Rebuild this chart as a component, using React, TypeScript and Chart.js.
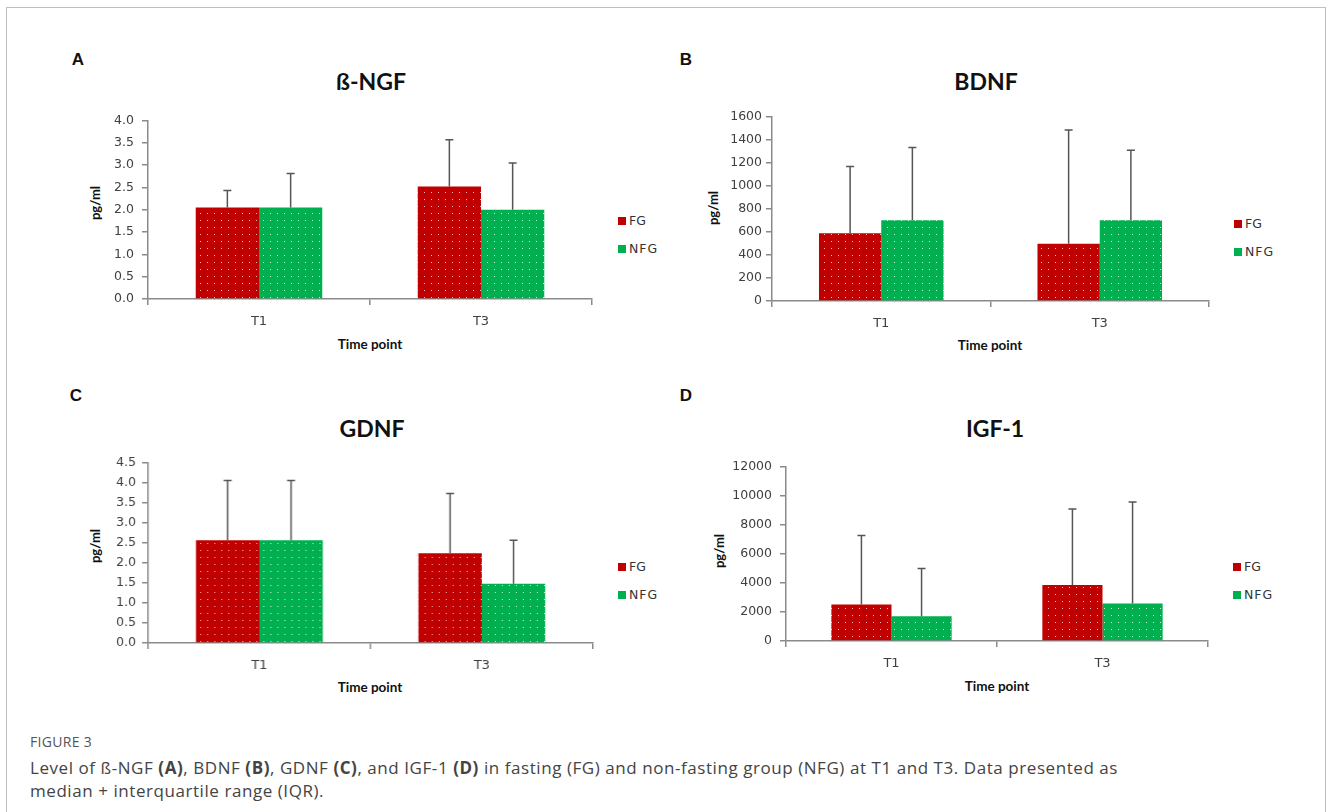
import React, { useEffect, useRef } from "react";
import { Chart, registerables } from "chart.js";

Chart.register(...registerables);

// ---------- data ----------
const categories = ["T1", "T3"];
const seriesNames = ["FG", "NFG"];

// ß-NGF (pg/ml): median and upper end (median + IQR)
const ngfFG = [2.05, 2.52];
const ngfNFG = [2.05, 2.0];
const ngfFGUpper = [2.43, 3.57];
const ngfNFGUpper = [2.81, 3.05];
const ngfTicks = ["0.0", "0.5", "1.0", "1.5", "2.0", "2.5", "3.0", "3.5", "4.0"];

// BDNF
const bdnfFG = [589, 497];
const bdnfNFG = [702, 702];
const bdnfFGUpper = [1170, 1487];
const bdnfNFGUpper = [1334, 1311];
const bdnfTicks = ["0", "200", "400", "600", "800", "1000", "1200", "1400", "1600"];

// GDNF
const gdnfFG = [2.56, 2.24];
const gdnfNFG = [2.56, 1.48];
const gdnfFGUpper = [4.05, 3.73];
const gdnfNFGUpper = [4.05, 2.56];
const gdnfTicks = ["0.0", "0.5", "1.0", "1.5", "2.0", "2.5", "3.0", "3.5", "4.0", "4.5"];

// IGF-1
const igfFG = [2510, 3856];
const igfNFG = [1703, 2577];
const igfFGUpper = [7248, 9085];
const igfNFGUpper = [4980, 9556];
const igfTicks = ["0", "2000", "4000", "6000", "8000", "10000", "12000"];

// ---------- styling ----------
const RED = "#c00000";
const GREEN = "#00b050";
const AXIS = "#8a8a8a";
const TICK_TXT = "#404040";
const YW = 70; // y-axis width inside canvas
const XH = 40; // x-axis height inside canvas
const PT = 12;
const PR = 12;

function makePattern(base: string, dot: string) {
  const c = document.createElement("canvas");
  c.width = 7;
  c.height = 7;
  const g = c.getContext("2d")!;
  g.fillStyle = base;
  g.fillRect(0, 0, 7, 7);
  g.fillStyle = dot;
  g.fillRect(3, 3, 1, 1);
  return g.createPattern(c, "repeat")!;
}

const errorBarPlugin = {
  id: "errorBars",
  afterDatasetsDraw(chart: any) {
    const ctx = chart.ctx;
    const ys = chart.scales.y;
    chart.data.datasets.forEach((ds: any, di: number) => {
      const meta = chart.getDatasetMeta(di);
      meta.data.forEach((bar: any, i: number) => {
        const top = ys.getPixelForValue(ds.upper[i]);
        ctx.save();
        ctx.strokeStyle = "#555555";
        ctx.lineWidth = 1.5;
        ctx.beginPath();
        ctx.moveTo(bar.x, bar.y);
        ctx.lineTo(bar.x, top);
        ctx.moveTo(bar.x - 4, top);
        ctx.lineTo(bar.x + 4, top);
        ctx.stroke();
        ctx.restore();
      });
    });
  },
};

type PanelProps = {
  x0: number;
  x1: number;
  yTop: number;
  yBottom: number;
  fg: number[];
  nfg: number[];
  fgUpper: number[];
  nfgUpper: number[];
  tickLabels: string[];
  step: number;
  labelPad: number;
};

function Panel(p: PanelProps) {
  const ref = useRef<HTMLCanvasElement>(null);
  const width = p.x1 - p.x0 + YW + PR;
  const height = p.yBottom - p.yTop + PT + XH;
  useEffect(() => {
    const canvas = ref.current!;
    const redPat = makePattern(RED, "rgba(255,200,200,0.95)");
    const greenPat = makePattern(GREEN, "rgba(205,255,220,0.95)");
    const maxV = p.step * (p.tickLabels.length - 1);
    const chart = new Chart(canvas, {
      type: "bar",
      data: {
        labels: categories,
        datasets: [
          {
            label: seriesNames[0],
            data: p.fg,
            backgroundColor: redPat as any,
            borderWidth: 0,
            categoryPercentage: 0.57,
            barPercentage: 1,
            upper: p.fgUpper,
          } as any,
          {
            label: seriesNames[1],
            data: p.nfg,
            backgroundColor: greenPat as any,
            borderWidth: 0,
            categoryPercentage: 0.57,
            barPercentage: 1,
            upper: p.nfgUpper,
          } as any,
        ],
      },
      options: {
        animation: false,
        responsive: false,
        maintainAspectRatio: false,
        layout: { padding: { top: PT, right: PR, left: 0, bottom: 0 } },
        plugins: { legend: { display: false }, tooltip: { enabled: false } },
        scales: {
          x: {
            grid: {
              display: true,
              drawOnChartArea: false,
              drawTicks: true,
              tickLength: 6,
              color: AXIS,
              lineWidth: 1.5,
              offset: true,
            },
            border: { display: true, color: AXIS, width: 1.5 },
            ticks: {
              font: { family: "DejaVu Sans", size: 13 },
              color: TICK_TXT,
              padding: 9,
            },
            afterFit(s: any) {
              s.height = XH;
            },
          },
          y: {
            min: 0,
            max: maxV,
            ticks: {
              stepSize: p.step,
              font: { family: "DejaVu Sans", size: 12.5 },
              color: TICK_TXT,
              padding: p.labelPad,
              callback: (_v: any, i: number) => p.tickLabels[i],
            },
            grid: {
              display: true,
              drawOnChartArea: false,
              drawTicks: true,
              tickLength: 6,
              color: AXIS,
              lineWidth: 1.5,
            },
            border: { display: true, color: AXIS, width: 1.5 },
            afterFit(s: any) {
              s.width = YW;
            },
          },
        },
      },
      plugins: [errorBarPlugin],
    });
    return () => chart.destroy();
  }, []);
  return (
    <canvas
      ref={ref}
      width={width}
      height={height}
      style={{
        position: "absolute",
        left: p.x0 - YW,
        top: p.yTop - PT,
        width,
        height,
      }}
    />
  );
}

function Txt(props: {
  x: number;
  y: number;
  text: string;
  size: number;
  family: string;
  weight?: number;
  color?: string;
  rotate?: boolean;
  spacing?: number;
}) {
  return (
    <div
      style={{
        position: "absolute",
        left: props.x,
        top: props.y,
        transform: `translate(-50%, -50%)${props.rotate ? " rotate(-90deg)" : ""}`,
        fontFamily: props.family,
        fontSize: props.size,
        fontWeight: props.weight ?? 400,
        color: props.color ?? "#111",
        lineHeight: 1,
        whiteSpace: "nowrap",
        letterSpacing: props.spacing ?? 0,
      }}
    >
      {props.text}
    </div>
  );
}

function Legend({ x, y1, y2 }: { x: number; y1: number; y2: number }) {
  const item = (y: number, color: string, label: string, spacing: number) => (
    <div style={{ position: "absolute", left: x, top: y, height: 8 }}>
      <div
        style={{
          position: "absolute",
          left: 0,
          top: 0,
          width: 8,
          height: 8,
          background: color,
        }}
      />
      <div
        style={{
          position: "absolute",
          left: 11,
          top: -3,
          fontFamily: "DejaVu Sans",
          fontSize: 12.5,
          lineHeight: "14px",
          color: "#333",
          whiteSpace: "nowrap",
          letterSpacing: spacing,
        }}
      >
        {label}
      </div>
    </div>
  );
  return (
    <>
      {item(y1, RED, seriesNames[0], 0)}
      {item(y2, GREEN, seriesNames[1], 1)}
    </>
  );
}

const TITLE_FONT = "Lato";

export default function App() {
  return (
    <div
      style={{
        position: "fixed",
        left: 0,
        top: 0,
        width: 1330,
        height: 812,
        overflow: "hidden",
        background: "#fff",
      }}
    >
      <div
        style={{
          position: "absolute",
          left: 6,
          top: 7,
          width: 1320,
          height: 820,
          border: "1.5px solid #bfbfbf",
          boxSizing: "border-box",
        }}
      />

      {/* Panel A */}
      <Txt x={78} y={59} text="A" size={17} family="Liberation Sans" weight={700} />
      <Txt x={371} y={81} text="ß-NGF" size={23} family={TITLE_FONT} weight={700} />
      <Txt x={95} y={203} text="pg/ml" size={13} family={TITLE_FONT} weight={700} rotate />
      <Txt x={370} y={345} text="Time point" size={13.5} family={TITLE_FONT} weight={700} />
      <Panel
        x0={148}
        x1={592}
        yTop={116.5}
        yBottom={299}
        fg={ngfFG}
        nfg={ngfNFG}
        fgUpper={ngfFGUpper}
        nfgUpper={ngfNFGUpper}
        tickLabels={ngfTicks}
        step={0.5}
        labelPad={8}
      />
      <Legend x={618} y1={217} y2={245} />

      {/* Panel B */}
      <Txt x={686} y={59} text="B" size={17} family="Liberation Sans" weight={700} />
      <Txt x={986} y={81} text="BDNF" size={23} family={TITLE_FONT} weight={700} />
      <Txt x={713} y={208} text="pg/ml" size={13} family={TITLE_FONT} weight={700} rotate />
      <Txt x={990} y={346} text="Time point" size={13.5} family={TITLE_FONT} weight={700} />
      <Panel
        x0={772}
        x1={1209}
        yTop={116.7}
        yBottom={301.3}
        fg={bdnfFG}
        nfg={bdnfNFG}
        fgUpper={bdnfFGUpper}
        nfgUpper={bdnfNFGUpper}
        tickLabels={bdnfTicks}
        step={200}
        labelPad={4}
      />
      <Legend x={1234} y1={220} y2={248} />

      {/* Panel C */}
      <Txt x={76} y={395} text="C" size={17} family="Liberation Sans" weight={700} />
      <Txt x={372} y={428} text="GDNF" size={23} family={TITLE_FONT} weight={700} />
      <Txt x={95} y={546} text="pg/ml" size={13} family={TITLE_FONT} weight={700} rotate />
      <Txt x={370} y={688} text="Time point" size={13.5} family={TITLE_FONT} weight={700} />
      <Panel
        x0={148}
        x1={592.7}
        yTop={460.7}
        yBottom={642.7}
        fg={gdnfFG}
        nfg={gdnfNFG}
        fgUpper={gdnfFGUpper}
        nfgUpper={gdnfNFGUpper}
        tickLabels={gdnfTicks}
        step={0.5}
        labelPad={6}
      />
      <Legend x={618} y1={563} y2={591} />

      {/* Panel D */}
      <Txt x={686} y={395} text="D" size={17} family="Liberation Sans" weight={700} />
      <Txt x={995} y={428} text="IGF-1" size={23} family={TITLE_FONT} weight={700} />
      <Txt x={719} y={551} text="pg/ml" size={13} family={TITLE_FONT} weight={700} rotate />
      <Txt x={997} y={687} text="Time point" size={13.5} family={TITLE_FONT} weight={700} />
      <Panel
        x0={786}
        x1={1208}
        yTop={462.7}
        yBottom={641}
        fg={igfFG}
        nfg={igfNFG}
        fgUpper={igfFGUpper}
        nfgUpper={igfNFGUpper}
        tickLabels={igfTicks}
        step={2000}
        labelPad={8}
      />
      <Legend x={1233} y1={563} y2={591} />

      {/* Caption */}
      <div
        style={{
          position: "absolute",
          left: 30,
          top: 734,
          fontFamily: "Open Sans",
          fontSize: 14,
          lineHeight: "16px",
          color: "#555",
          letterSpacing: 0.3,
        }}
      >
        FIGURE 3
      </div>
      <div
        style={{
          position: "absolute",
          left: 30,
          top: 756,
          fontFamily: "Open Sans",
          fontSize: 17,
          lineHeight: "23px",
          color: "#444",
          whiteSpace: "nowrap",
          letterSpacing: 0.56,
        }}
      >
        Level of ß-NGF <b>(A)</b>, BDNF <b>(B)</b>, GDNF <b>(C)</b>, and IGF-1 <b>(D)</b> in fasting
        (FG) and non-fasting group (NFG) at T1 and T3. Data presented as
        <br />
        median + interquartile range (IQR).
      </div>
    </div>
  );
}
